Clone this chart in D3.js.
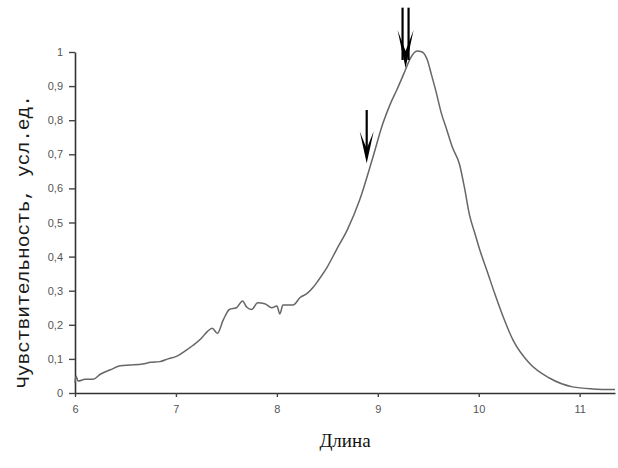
<!DOCTYPE html>
<html>
<head>
<meta charset="utf-8">
<script src="https://cdn.jsdelivr.net/npm/d3@7"></script>
<style>
  body { margin: 0; background: #fff; }
  svg { display: block; }
</style>
</head>
<body>
<svg id="chart" width="618" height="468"></svg>
<script>
// spectrum readings (length, sensitivity)
var lengths = [6.00, 6.01, 6.03, 6.10, 6.18, 6.25, 6.35, 6.45, 6.55, 6.67, 6.75, 6.84, 6.92,
  7.01, 7.10, 7.17, 7.25, 7.31, 7.36, 7.41, 7.47, 7.53, 7.60, 7.66, 7.70, 7.75, 7.81, 7.88,
  7.95, 8.00, 8.03, 8.06, 8.16, 8.23, 8.30, 8.36, 8.41, 8.50, 8.59, 8.70, 8.82, 8.95, 9.05,
  9.12, 9.19, 9.27, 9.32, 9.39, 9.44, 9.49, 9.53, 9.58, 9.63, 9.68, 9.74, 9.81, 9.86, 9.91,
  9.96, 10.01, 10.08, 10.16, 10.24, 10.34, 10.50, 10.70, 10.93, 11.13, 11.35];
var sensitivity = [0.030, 0.050, 0.035, 0.040, 0.040, 0.055, 0.068, 0.080, 0.082, 0.085, 0.090, 0.092, 0.100,
  0.108, 0.125, 0.140, 0.160, 0.180, 0.190, 0.175, 0.215, 0.245, 0.250, 0.270, 0.252, 0.245, 0.265, 0.262,
  0.250, 0.255, 0.232, 0.258, 0.258, 0.280, 0.292, 0.310, 0.330, 0.370, 0.420, 0.480, 0.566, 0.690, 0.790,
  0.845, 0.890, 0.945, 0.980, 1.003, 1.000, 0.977, 0.935, 0.880, 0.820, 0.775, 0.720, 0.670, 0.600, 0.520,
  0.470, 0.420, 0.360, 0.290, 0.225, 0.155, 0.088, 0.044, 0.018, 0.012, 0.010];

var xTicks = [6, 7, 8, 9, 10, 11];
var yTicks = [0, 0.1, 0.2, 0.3, 0.4, 0.5, 0.6, 0.7, 0.8, 0.9, 1];

// arrow marks: x, tip y, top y, number of shafts
var arrows = [
  { x: 8.89, tip: 0.674, top: 0.83, shafts: 1 },
  { x: 9.275, tip: 0.953, top: 1.13, shafts: 2 }
];

var yTitle = "Чувствительность, усл.ед.";
var xTitle = "Длина";

var svg = d3.select("#chart");

var x = d3.scaleLinear().domain([6, 11.35]).range([75, 615]);
var y = d3.scaleLinear().domain([0, 1]).range([393, 52]);

var fmt = function(d) { return d === 0 || d === 1 ? String(d) : d3.format(".1f")(d).replace(".", ","); };

var gx = svg.append("g")
  .attr("transform", "translate(0," + y(0) + ")")
  .call(d3.axisBottom(x).tickValues(xTicks).tickFormat(d3.format("d"))
    .tickSize(4).tickSizeOuter(0).tickPadding(8));

var gy = svg.append("g")
  .attr("transform", "translate(" + x(6) + ",0)")
  .call(d3.axisLeft(y).tickValues(yTicks).tickFormat(fmt).tickSize(6).tickSizeOuter(0).tickPadding(6));

[gx, gy].forEach(function(g) {
  g.select(".domain").attr("stroke", "#333").attr("stroke-width", 1.6);
  g.selectAll(".tick line").attr("stroke", "#444").attr("stroke-width", 1.4);
  g.selectAll(".tick text")
    .attr("fill", "#555")
    .style("font-family", "Liberation Sans, Arial, sans-serif")
    .style("font-size", "11px");
});

var line = d3.line()
  .x(function(d, i) { return x(lengths[i]); })
  .y(function(d) { return y(d); })
  .curve(d3.curveMonotoneX);

svg.append("path")
  .datum(sensitivity)
  .attr("fill", "none")
  .attr("stroke", "#666")
  .attr("stroke-width", 1.5)
  .attr("stroke-linejoin", "round")
  .attr("d", line);

// arrows
arrows.forEach(function(a) {
  var cx = x(a.x), tip = y(a.tip), top = y(a.top);
  var headLen = a.shafts === 2 ? 38 : 32;
  var half = a.shafts === 2 ? 8 : 7;
  var g = svg.append("g");
  var offs = a.shafts === 2 ? [-3, 3] : [0];
  offs.forEach(function(o) {
    g.append("line")
      .attr("x1", cx + o).attr("x2", cx + o)
      .attr("y1", top).attr("y2", tip - 8)
      .attr("stroke", "#000").attr("stroke-width", 2.2);
  });
  g.append("path")
    .attr("d", "M" + (cx - half) + "," + (tip - headLen) +
      " L" + cx + "," + tip +
      " L" + (cx + half) + "," + (tip - headLen) +
      " L" + cx + "," + (tip - headLen * 0.45) + " Z")
    .attr("fill", "#000");
});

svg.append("text")
  .attr("transform", "translate(29," + ((95 + 388) / 2) + ") rotate(-90)")
  .attr("text-anchor", "middle")
  .attr("textLength", 293)
  .attr("lengthAdjust", "spacingAndGlyphs")
  .style("font-family", "Liberation Mono, Courier New, monospace")
  .style("font-size", "19px")
  .attr("fill", "#1a1a1a")
  .text(yTitle);

svg.append("text")
  .attr("x", 345)
  .attr("y", 447)
  .attr("text-anchor", "middle")
  .style("font-family", "Liberation Serif, Times New Roman, serif")
  .style("font-size", "19px")
  .attr("fill", "#111")
  .text(xTitle);
</script>
</body>
</html>
